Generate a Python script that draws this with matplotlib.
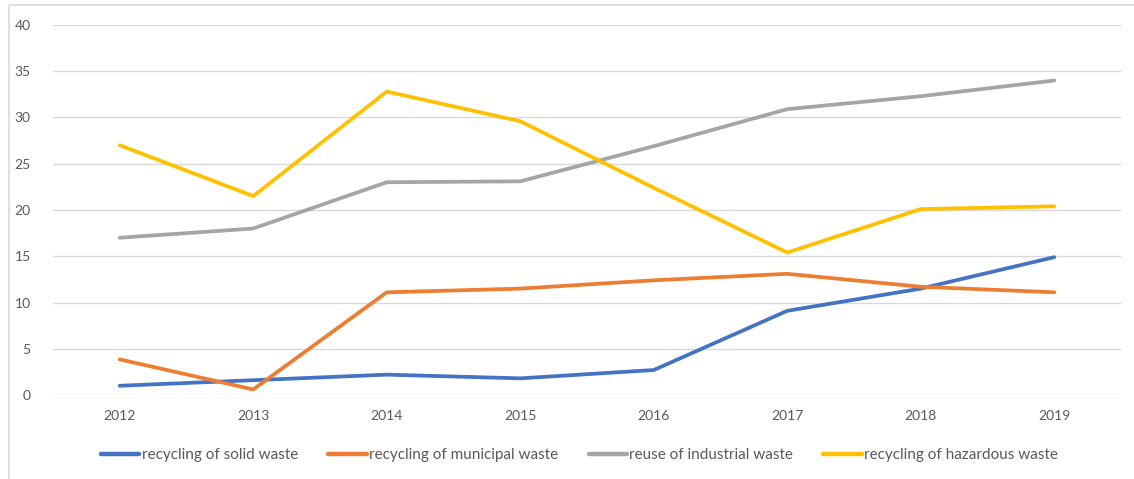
import matplotlib
matplotlib.use("Agg")
import matplotlib.pyplot as plt
from matplotlib.patches import Rectangle

years = ["2012", "2013", "2014", "2015", "2016", "2017", "2018", "2019"]
solid = [1.0, 1.6, 2.2, 1.8, 2.7, 9.1, 11.5, 14.9]
municipal = [3.85, 0.6, 11.1, 11.5, 12.4, 13.1, 11.7, 11.1]
industrial = [17.0, 18.0, 23.0, 23.1, 26.9, 30.9, 32.3, 34.0]
hazardous = [27.0, 21.5, 32.8, 29.6, 22.4, 15.4, 20.1, 20.4]
labels = ["recycling of solid waste", "recycling of municipal waste",
          "reuse of industrial waste", "recycling of hazardous waste"]
colors = ["#4472C4", "#ED7D31", "#A5A5A5", "#FFC000"]
yticks = [0, 5, 10, 15, 20, 25, 30, 35, 40]

plt.rcParams['font.family'] = ['Lato', 'DejaVu Sans']

W, H = 1134, 479
fig = plt.figure(figsize=(W / 100, H / 100), dpi=100)
ax = fig.add_axes([53 / W, 1 - 395 / H, (1121 - 53) / W, (395 - 25) / H])

# outer chart border
fig.patches.append(Rectangle((8.5 / W, -0.1), 1.2, 1 - 4.5 / H + 0.1,
                             transform=fig.transFigure, fill=False,
                             edgecolor="#d9d9d9", linewidth=1.2, zorder=0))

x = list(range(len(years)))
for series, lab, col in zip([solid, municipal, industrial, hazardous], labels, colors):
    ax.plot(x, series, color=col, linewidth=2.7, label=lab,
            solid_capstyle="round", solid_joinstyle="round", zorder=3)

ax.set_xlim(-0.5, len(years) - 0.5)
ax.set_ylim(0, 40)
ax.set_yticks(yticks)
ax.set_xticks(x)
ax.set_xticklabels(years)
ax.grid(axis="y", color="#d9d9d9", linewidth=1.0)
ax.set_axisbelow(True)
for s in ax.spines.values():
    s.set_visible(False)
ax.tick_params(axis="both", length=0, labelsize=10, labelcolor="#595959")
ax.tick_params(axis="y", pad=16)
ax.tick_params(axis="x", pad=11)

leg = fig.legend(loc="center", bbox_to_anchor=(0.511, 1 - 455 / H), ncol=4,
                 frameon=False, fontsize=11, handlelength=2.5,
                 handletextpad=0.15, columnspacing=2.0, labelcolor="#595959")
for lh in leg.get_lines():
    lh.set_linewidth(3.2)

fig.savefig("out.png", dpi=100)
